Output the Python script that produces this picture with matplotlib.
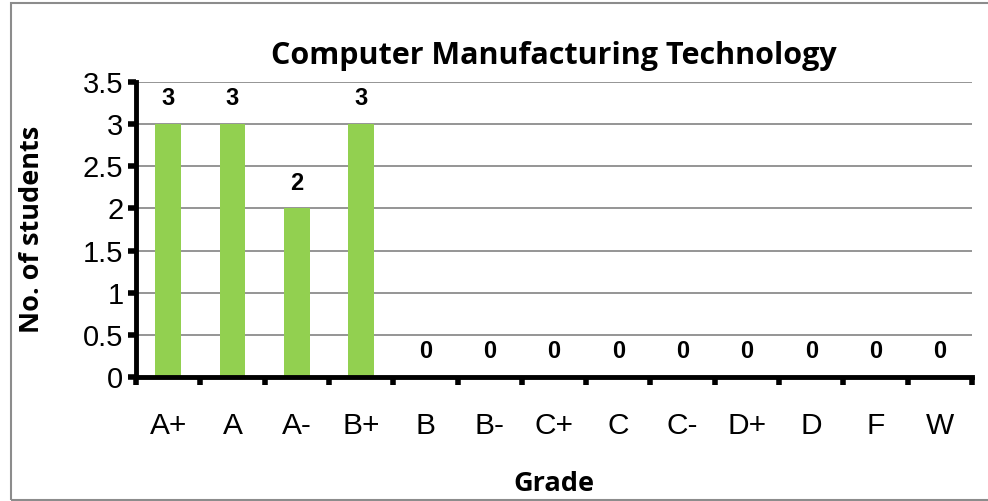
import matplotlib
matplotlib.use('Agg')
import matplotlib.pyplot as plt
from matplotlib.patches import Rectangle

# data
grades = ['A+', 'A', 'A-', 'B+', 'B', 'B-', 'C+', 'C', 'C-', 'D+', 'D', 'F', 'W']
students = [3, 3, 2, 3, 0, 0, 0, 0, 0, 0, 0, 0, 0]
y_ticks = [0, 0.5, 1, 1.5, 2, 2.5, 3, 3.5]
y_tick_labels = ['0', '0.5', '1', '1.5', '2', '2.5', '3', '3.5']

fig = plt.figure(figsize=(9.88, 5.01), dpi=100)
ax = fig.add_axes([136 / 988, 1 - 377 / 501, (972 - 136) / 988, (377 - 82) / 501])

# outer chart border (runs off the right edge like the original)
fig.patches.append(Rectangle((11 / 988, 1 / 501), 1.0, 497 / 501,
                             transform=fig.transFigure, fill=False,
                             edgecolor='#8c8c8c', linewidth=1.5))

x = list(range(len(grades)))
ax.bar(x, students, width=0.4, color='#92d050', zorder=2)

for xi, v in zip(x, students):
    ax.annotate(str(v), (xi, v), xytext=(0, 10), textcoords='offset points',
                ha='center', va='bottom', fontsize=17, fontweight='bold',
                family='Liberation Sans')

ax.set_xlim(-0.5, len(grades) - 0.5)
ax.set_ylim(0, 3.5)
ax.set_yticks(y_ticks)
ax.set_yticklabels(y_tick_labels, family='Liberation Sans', fontsize=21)
ax.yaxis.grid(True, color='#8c8c8c', linewidth=1.3, zorder=0)
ax.set_axisbelow(True)

# category ticks at boundaries, labels in between
ax.set_xticks([i - 0.5 for i in range(len(grades) + 1)])
ax.set_xticklabels([])
ax.set_xticks(x, minor=True)
ax.set_xticklabels(grades, minor=True, family='Liberation Sans', fontsize=21.5)
ax.tick_params(axis='x', which='minor', length=0, pad=25)
ax.tick_params(axis='x', which='major', length=6, width=4, direction='out')
ax.tick_params(axis='y', length=6, width=4, direction='out', pad=3)

for side in ['top', 'right']:
    ax.spines[side].set_visible(False)
ax.spines['left'].set_linewidth(3.5)
ax.spines['bottom'].set_linewidth(3.5)

ax.set_title('Computer Manufacturing Technology', family='Open Sans',
             fontweight='bold', fontsize=22, pad=13)
ax.set_ylabel('No. of students', family='Open Sans', fontweight='bold', fontsize=19.5)
ax.yaxis.set_label_coords((45 - 136) / 836, 0.5)
ax.set_xlabel('Grade', family='Open Sans', fontweight='bold', fontsize=19.5)
ax.xaxis.set_label_coords(0.5, (377 - 471) / 295)

plt.savefig('out.png', dpi=100)
